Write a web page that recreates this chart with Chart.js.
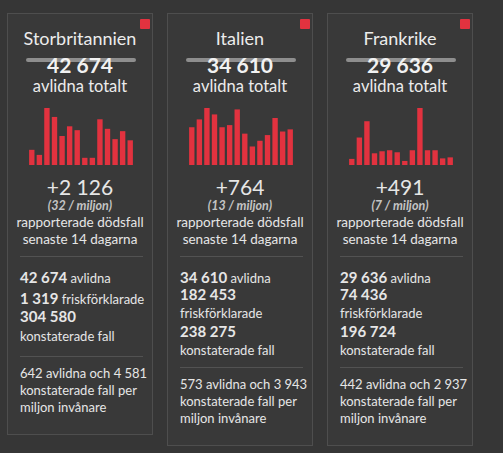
<!DOCTYPE html>
<html><head><meta charset="utf-8">
<script src="https://cdn.jsdelivr.net/npm/chart.js@4"></script>
<style>
html,body{margin:0;padding:0;background:#363636;width:503px;height:453px;overflow:hidden;font-family:Lato,"Open Sans",sans-serif;}
.card{position:absolute;box-sizing:border-box;border:1px solid #4e4e4e;background:#393939;}
.sq{position:absolute;width:10px;height:10px;background:#e2323f;border-radius:1px;}
.ln{position:absolute;white-space:nowrap;color:#e6e6e6;}
.c{left:0;width:100%;text-align:center;}
.strike{position:absolute;height:4px;border-radius:2px;background:#8e8e8e;}
.sep{position:absolute;height:1px;background:#525252;}
.cv{position:absolute;}
b{font-weight:700;}
</style></head><body>
<script>
const countries = ["Storbritannien", "Italien", "Frankrike"];
const totalDeaths = ["42 674", "34 610", "29 636"];
const dayLabels = ["1","2","3","4","5","6","7","8","9","10","11","12","13","14"];
const dailyUK = [78, 52, 293, 247, 149, 199, 179, 37, 37, 235, 186, 133, 174, 127];
const dailyIT = [53, 64, 80, 71, 53, 56, 78, 44, 26, 34, 42, 66, 47, 50];
const dailyFR = [12, 54, 86, 23, 27, 29, 25, 8, 29, 112, 29, 29, 13, 15];
const recentDeaths = ["+2 126", "+764", "+491"];
const recentPerMillion = ["(32 / miljon)", "(13 / miljon)", "(7 / miljon)"];
const recovered = ["1 319", "182 453", "74 436"];
const confirmed = ["304 580", "238 275", "196 724"];
const deathsPerMillion = ["642", "573", "442"];
const casesPerMillion = ["4 581", "3 943", "2 937"];
const dailySeries = [dailyUK, dailyIT, dailyFR];

const cardLefts = [7, 167, 327];
const W = 146;

function line(card, html, cy, size, cls, extra) {
  const d = document.createElement('div');
  d.className = 'ln ' + (cls || '');
  const L = Math.round(size * 1.4);
  d.style.top = (cy - L / 2) + 'px';
  d.style.height = L + 'px';
  d.style.lineHeight = L + 'px';
  d.style.fontSize = size + 'px';
  if (extra) Object.assign(d.style, extra);
  if (!cls) d.style.left = '12px';
  d.innerHTML = html;
  card.appendChild(d);
  return d;
}

countries.forEach((name, i) => {
  const oneLine = recovered[i].length <= 5;
  const card = document.createElement('div');
  card.className = 'card';
  card.style.left = cardLefts[i] + 'px';
  card.style.top = '13px';
  card.style.width = W + 'px';
  card.style.height = (oneLine ? 422 : 433) + 'px';
  document.body.appendChild(card);
  const T = 13;
  const sq = document.createElement('div'); sq.className = 'sq';
  sq.style.left = (W - 14) + 'px'; sq.style.top = '5px'; card.appendChild(sq);

  line(card, name, 37 - T, 18, 'c', {color:'#ececec'});
  const st = document.createElement('div'); st.className = 'strike';
  st.style.left = '18px'; st.style.width = '110px'; st.style.top = (57 - T) + 'px';
  card.appendChild(st);
  line(card, totalDeaths[i], 63 - T, 21, 'c', {fontWeight:'700', color:'#f2f2f2'});
  line(card, 'avlidna totalt', 85 - T, 16.5, 'c', {color:'#ececec'});

  const cv = document.createElement('canvas');
  const wrap = document.createElement('div'); wrap.className = 'cv';
  wrap.style.left = '20px'; wrap.style.top = (107 - T) + 'px';
  wrap.style.width = '106px'; wrap.style.height = '57px';
  wrap.appendChild(cv); card.appendChild(wrap);
  const data = dailySeries[i];
  new Chart(cv, {
    type: 'bar',
    data: { labels: dayLabels, datasets: [{ data: data, backgroundColor: '#e2323f', borderWidth: 0,
      categoryPercentage: 1, barPercentage: 0.71 }] },
    options: {
      responsive: true, maintainAspectRatio: false, animation: false,
      layout: { padding: 0 },
      plugins: { legend: { display: false }, tooltip: { enabled: false } },
      scales: {
        x: { display: false },
        y: { display: false, min: 0, max: Math.max(...data) }
      }
    }
  });

  line(card, recentDeaths[i], 185 - T, 21, 'c', {color:'#e6e6e6', fontWeight:'400'});
  line(card, '<i>' + recentPerMillion[i] + '</i>', 204.5 - T, 12.5, 'c', {color:'#c4c4c4', fontWeight:'700'});
  line(card, 'rapporterade dödsfall', 221 - T, 13.5, 'c');
  line(card, 'senaste 14 dagarna', 238 - T, 13.5, 'c');
  const s1 = document.createElement('div'); s1.className = 'sep';
  s1.style.left = '12px'; s1.style.width = '123px'; s1.style.top = (255 - T) + 'px';
  card.appendChild(s1);

  line(card, '<b style="font-size:15px">' + totalDeaths[i] + '</b> avlidna', 276 - T, 13);
  let y;
  if (oneLine) {
    line(card, '<b style="font-size:15px">' + recovered[i] + '</b> friskförklarade', 296.7 - T, 13);
    line(card, '<b>' + confirmed[i] + '</b>', 315.3 - T, 15);
    line(card, 'konstaterade fall', 334.7 - T, 13);
    y = 355;
  } else {
    line(card, '<b>' + recovered[i] + '</b>', 293.3 - T, 15);
    line(card, 'friskförklarade', 312 - T, 13);
    line(card, '<b>' + confirmed[i] + '</b>', 330 - T, 15);
    line(card, 'konstaterade fall', 349 - T, 13);
    y = 366;
  }
  const s2 = document.createElement('div'); s2.className = 'sep';
  s2.style.left = '12px'; s2.style.width = '123px'; s2.style.top = (y - T) + 'px';
  card.appendChild(s2);
  line(card, deathsPerMillion[i] + ' avlidna och ' + casesPerMillion[i], y + 17 - T, 13);
  line(card, 'konstaterade fall per', y + 34 - T, 13);
  line(card, 'miljon invånare', y + 51 - T, 13);
});
</script>
</body></html>
